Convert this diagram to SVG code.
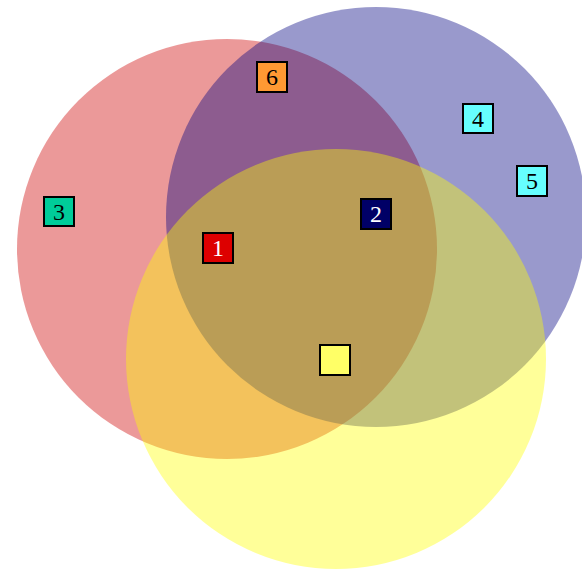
<svg xmlns="http://www.w3.org/2000/svg" width="582" height="571" viewBox="0 0 582 571">
<style>
.box{stroke:#000;stroke-width:2}
.t{font-family:"Liberation Serif","Times New Roman",serif;font-size:24px;text-anchor:middle;dominant-baseline:central}
</style>
<rect width="582" height="571" fill="#fff"/>
<g id="sets">
<circle id="set-red" cx="227" cy="249" r="210" fill="#cc0000" fill-opacity="0.4"/>
<circle id="set-blue" cx="376" cy="217" r="210" fill="#000080" fill-opacity="0.4"/>
<circle id="set-yellow" cx="336" cy="359" r="210" fill="#ffff00" fill-opacity="0.4"/>
</g>
<g id="connectors"></g>
<g id="n6"><rect class="box" x="257" y="62" width="30" height="30" fill="#ff9933"/><text class="t" x="272" y="77" fill="#000">6</text></g>
<g id="n3"><rect class="box" x="44" y="197" width="30" height="29" fill="#00cc99"/><text class="t" x="59" y="212" fill="#000">3</text></g>
<g id="n1"><rect class="box" x="203" y="233" width="30" height="30" fill="#dd0000"/><text class="t" x="218" y="248" fill="#fff">1</text></g>
<g id="n2"><rect class="box" x="361" y="199" width="30" height="30" fill="#000066"/><text class="t" x="376" y="214" fill="#fff">2</text></g>
<g id="n0"><rect class="box" x="320" y="345" width="30" height="30" fill="#ffff66"/></g>
<g id="n4"><rect class="box" x="463" y="104" width="30" height="29" fill="#66ffff"/><text class="t" x="478" y="119" fill="#000">4</text></g>
<g id="n5"><rect class="box" x="517" y="166" width="30" height="30" fill="#66ffff"/><text class="t" x="532" y="181" fill="#000">5</text></g>
</svg>
